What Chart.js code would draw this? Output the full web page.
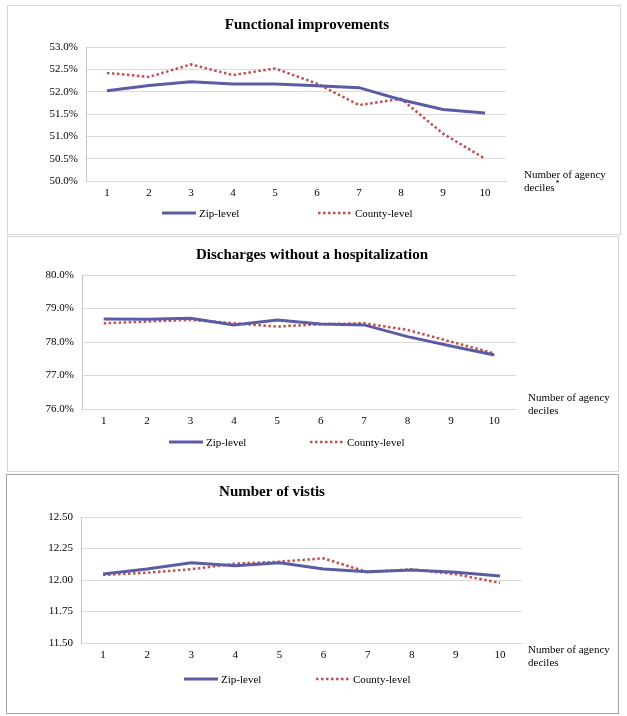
<!DOCTYPE html>
<html>
<head>
<meta charset="utf-8">
<script src="https://cdn.jsdelivr.net/npm/chart.js@4.4.1/dist/chart.umd.min.js"></script>
<style>
  body { margin: 0; background: #fff; }
  .panel { position: absolute; border: 1px solid #d6d6d6; background: #fff; }
  .panel canvas { position: absolute; left: 0; top: 0; }
</style>
</head>
<body>
<div class="panel" style="left:7px;top:5px;width:612px;height:228px"><canvas id="c1" width="612" height="228"></canvas></div>
<div class="panel" style="left:7px;top:236px;width:610px;height:234px"><canvas id="c2" width="610" height="234"></canvas></div>
<div class="panel" style="left:6px;top:474px;width:611px;height:238px;border-color:#a4a4a4"><canvas id="c3" width="611" height="238"></canvas></div>
<script>
// deciles on the x axis
const deciles = ['1', '2', '3', '4', '5', '6', '7', '8', '9', '10'];

// Functional improvements (%)
const funcZip    = [52.02, 52.14, 52.22, 52.17, 52.17, 52.13, 52.09, 51.82, 51.60, 51.52];
const funcCounty = [52.42, 52.33, 52.61, 52.37, 52.52, 52.18, 51.70, 51.84, 51.06, 50.50];

// Discharges without a hospitalization (%)
const dischZip    = [78.69, 78.68, 78.71, 78.51, 78.66, 78.54, 78.51, 78.16, 77.88, 77.61];
const dischCounty = [78.56, 78.61, 78.66, 78.56, 78.46, 78.53, 78.56, 78.36, 78.01, 77.66];

// Number of visits
const visitZip    = [12.048, 12.087, 12.137, 12.113, 12.137, 12.087, 12.066, 12.079, 12.061, 12.032];
const visitCounty = [12.040, 12.058, 12.085, 12.130, 12.145, 12.172, 12.061, 12.085, 12.045, 11.978];

const serif = '"Liberation Serif", "Times New Roman", serif';

// titles, legend and the x axis note drawn on the canvas
const panelText = {
  id: 'panelText',
  afterDraw(chart, args, o) {
    const ctx = chart.ctx;
    const area = chart.chartArea;
    ctx.save();
    ctx.fillStyle = '#000';
    ctx.textBaseline = 'middle';

    ctx.font = 'bold 15px ' + serif;
    ctx.textAlign = 'center';
    ctx.fillText(o.title, o.titleX, o.titleY);

    ctx.font = '11px ' + serif;
    ctx.textAlign = 'left';
    const nx = area.right + o.noteDX;
    const ny = area.bottom + o.noteDY;
    ctx.fillText('Number of agency', nx, ny);
    ctx.fillText('deciles', nx, ny + 13);
    if (o.star) {
      const w = ctx.measureText('deciles').width;
      ctx.font = '8px ' + serif;
      ctx.fillText('*', nx + w + 1, ny + 9);
      ctx.font = '11px ' + serif;
    }

    chart.data.datasets.forEach((ds, i) => {
      const x = o.legendX[i];
      const y = o.legendY;
      ctx.beginPath();
      ctx.strokeStyle = ds.borderColor;
      ctx.lineWidth = ds.borderWidth;
      ctx.setLineDash(ds.borderDash || []);
      ctx.moveTo(x, y);
      ctx.lineTo(x + 34, y);
      ctx.stroke();
      ctx.setLineDash([]);
      ctx.fillText(ds.label, x + 37, y + 1);
    });
    ctx.restore();
  }
};

function makePanel(id, title, zip, county, yMin, yMax, yStep, fmt, look) {
  new Chart(document.getElementById(id), {
    type: 'line',
    data: {
      labels: deciles,
      datasets: [{
        label: 'Zip-level',
        data: zip,
        borderColor: '#5c5ca6',
        borderWidth: 3,
        pointRadius: 0,
        tension: 0
      }, {
        label: 'County-level',
        data: county,
        borderColor: '#c0504d',
        borderWidth: 2.5,
        borderDash: [2.5, 2.5],
        pointRadius: 0,
        tension: 0
      }]
    },
    options: {
      responsive: false,
      animation: false,
      devicePixelRatio: 1,
      layout: { padding: { left: 0, right: look.padR, top: look.padT, bottom: look.padB } },
      scales: {
        x: {
          offset: true,
          grid: { display: false, drawTicks: false },
          border: { color: '#d9d9d9' },
          ticks: { color: '#000', padding: 6, font: { family: serif, size: 11 }, maxRotation: 0 },
          afterFit(scale) { scale.height = 20; }
        },
        y: {
          min: yMin,
          max: yMax,
          ticks: { stepSize: yStep, color: '#000', padding: 8, font: { family: serif, size: 11 }, callback: fmt },
          grid: { color: '#d9d9d9', drawTicks: false },
          border: { color: '#c4c4c4' },
          afterFit(scale) { scale.width = look.yW; }
        }
      },
      plugins: {
        legend: { display: false },
        tooltip: { enabled: false },
        panelText: Object.assign({ title: title }, look)
      }
    },
    plugins: [panelText]
  });
}

const pct = v => v.toFixed(1) + '%';
const two = v => v.toFixed(2);

makePanel('c1', 'Functional improvements', funcZip, funcCounty, 50, 53, 0.5, pct, {
  padR: 114, padT: 41, padB: 33, yW: 78,
  titleX: 299, titleY: 19,
  legendX: [154, 310], legendY: 207,
  noteDX: 18, noteDY: -6, star: true
});

makePanel('c2', 'Discharges without a hospitalization', dischZip, dischCounty, 76, 80, 1, pct, {
  padR: 102, padT: 38, padB: 42, yW: 74,
  titleX: 304, titleY: 18,
  legendX: [161, 302], legendY: 205,
  noteDX: 12, noteDY: -11, star: false
});

makePanel('c3', 'Number of vistis', visitZip, visitCounty, 11.5, 12.5, 0.25, two, {
  padR: 96, padT: 42, padB: 50, yW: 74,
  titleX: 265, titleY: 17,
  legendX: [177, 309], legendY: 204,
  noteDX: 6, noteDY: 7, star: false
});
</script>
</body>
</html>
